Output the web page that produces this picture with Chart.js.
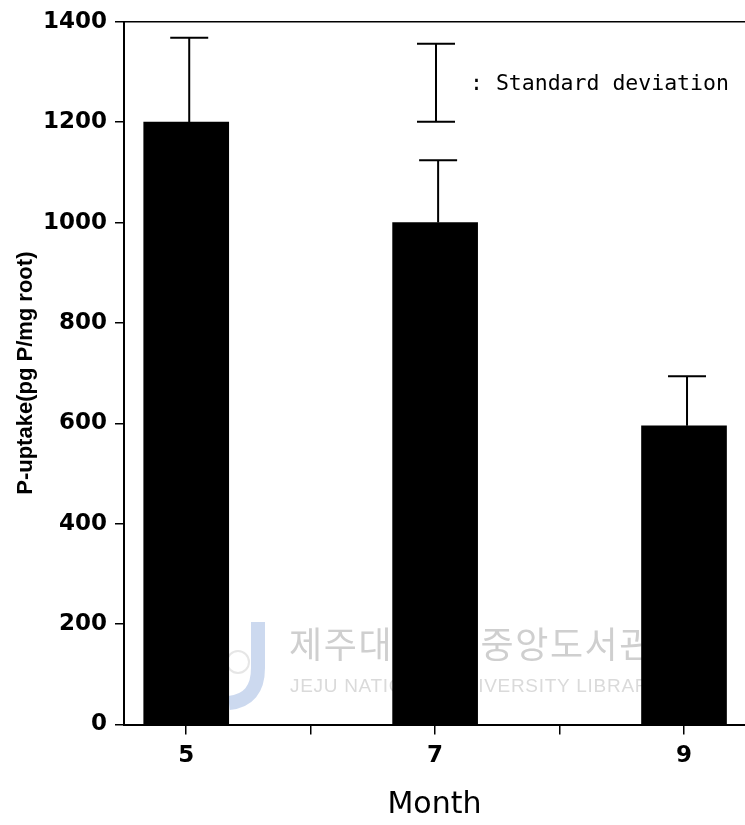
<!DOCTYPE html>
<html>
<head>
<meta charset="utf-8">
<title>P-uptake by month</title>
<script src="https://cdn.jsdelivr.net/npm/chart.js@4.4.1/dist/chart.umd.min.js"></script>
<style>
  html, body { margin: 0; padding: 0; background: #fff; overflow: hidden; }
  canvas { display: block; }
</style>
</head>
<body>
<canvas id="chart" width="745" height="825"></canvas>
<script>
// Sampling months and mean P-uptake (pg P / mg root) with standard deviations
const months = [5, 7, 9];
const uptake = [1200, 1000, 595];
const uptakeSD = [168, 124, 99];

// Axis ticks
const monthTicks = [5, 6, 7, 8, 9];
const labelledMonths = [5, 7, 9];
const yTicks = [0, 200, 400, 600, 800, 1000, 1200, 1400];

const AXIS_FONT = { family: 'DejaVu Sans', size: 23, weight: 'bold' };

// Library watermark printed faintly behind the bars
const watermark = {
  id: 'watermark',
  beforeDatasetsDraw(chart) {
    const { ctx } = chart;
    ctx.save();
    // J-shaped logo
    ctx.strokeStyle = 'rgba(170, 192, 228, 0.6)';
    ctx.lineWidth = 14;
    ctx.lineCap = 'butt';
    ctx.beginPath();
    ctx.moveTo(258, 622);
    ctx.lineTo(258, 668);
    ctx.quadraticCurveTo(258, 700, 229, 703);
    ctx.stroke();
    ctx.strokeStyle = 'rgba(205, 205, 205, 0.5)';
    ctx.lineWidth = 2;
    ctx.beginPath();
    ctx.arc(238, 662, 11, 0, Math.PI * 2);
    ctx.stroke();

    // Korean title, one glyph at a time
    ctx.fillStyle = '#cfcfcf';
    ctx.font = '36px "Noto Sans CJK KR"';
    ctx.textBaseline = 'middle';
    ctx.textAlign = 'left';
    const ko = '제주대학교 중앙도서관';
    let cx = 289;
    for (const ch of ko) {
      if (ch === ' ') { cx += 18; continue; }
      ctx.fillText(ch, cx, 644);
      cx += 34.7;
    }
    // English line
    ctx.fillStyle = '#dadada';
    ctx.font = '19px "Liberation Sans"';
    ctx.letterSpacing = '0.7px';
    ctx.textBaseline = 'alphabetic';
    ctx.fillText('JEJU NATIONAL UNIVERSITY LIBRARY', 290, 692);
    ctx.restore();
  }
};

// Upper whiskers for the standard deviation of each bar
const errorBars = {
  id: 'errorBars',
  afterDatasetsDraw(chart) {
    const { ctx, scales: { x, y } } = chart;
    ctx.save();
    ctx.strokeStyle = '#000';
    ctx.lineWidth = 2;
    months.forEach((m, i) => {
      const px = x.getPixelForValue(m) + 3;
      const yTop = y.getPixelForValue(uptake[i] + uptakeSD[i]);
      const yBar = y.getPixelForValue(uptake[i]);
      ctx.beginPath();
      ctx.moveTo(px, yBar);
      ctx.lineTo(px, yTop);
      ctx.moveTo(px - 19, yTop);
      ctx.lineTo(px + 19, yTop);
      ctx.stroke();
    });
    ctx.restore();
  }
};

// Key explaining the whisker symbol
const sdKey = {
  id: 'sdKey',
  afterDraw(chart) {
    const { ctx, chartArea } = chart;
    const kx = chartArea.left + 312;
    const top = chartArea.top + 22;
    const bottom = chartArea.top + 100;
    ctx.save();
    ctx.strokeStyle = '#000';
    ctx.lineWidth = 2;
    ctx.beginPath();
    ctx.moveTo(kx, top); ctx.lineTo(kx, bottom);
    ctx.moveTo(kx - 19, top); ctx.lineTo(kx + 19, top);
    ctx.moveTo(kx - 19, bottom); ctx.lineTo(kx + 19, bottom);
    ctx.stroke();
    ctx.fillStyle = '#000';
    ctx.font = '21.5px "DejaVu Sans Mono"';
    ctx.textBaseline = 'middle';
    ctx.textAlign = 'left';
    ctx.fillText(': Standard deviation', kx + 34, (top + bottom) / 2 + 2);
    ctx.restore();
  }
};

new Chart(document.getElementById('chart'), {
  type: 'bar',
  data: {
    datasets: [{
      label: 'P-uptake',
      data: months.map((m, i) => ({ x: m, y: uptake[i] })),
      backgroundColor: '#000',
      borderWidth: 0,
      barThickness: 85
    }]
  },
  options: {
    responsive: false,
    animation: false,
    devicePixelRatio: 1,
    layout: { padding: { top: 18, right: 0, bottom: 0, left: 0 } },
    plugins: { legend: { display: false }, tooltip: { enabled: false } },
    scales: {
      x: {
        type: 'linear',
        min: 4.5,
        max: 9.49,
        offset: false,
        afterBuildTicks: s => { s.ticks = monthTicks.map(v => ({ value: v })); },
        afterFit: s => { s.height = 100.5; },
        ticks: {
          autoSkip: false,
          maxRotation: 0,
          color: '#000',
          font: AXIS_FONT,
          padding: 8,
          callback: v => labelledMonths.includes(v) ? String(v) : ''
        },
        grid: {
          offset: false,
          drawOnChartArea: false,
          tickLength: 10,
          tickColor: '#000',
          lineWidth: 1.5
        },
        border: { display: true, color: '#000', width: 2 },
        title: {
          display: true,
          text: 'Month',
          color: '#000',
          font: { family: 'DejaVu Sans', size: 30, weight: 'normal' },
          padding: { top: 0, bottom: 2 }
        }
      },
      y: {
        min: yTicks[0],
        max: yTicks[yTicks.length - 1],
        afterBuildTicks: s => { s.ticks = yTicks.map(v => ({ value: v })); },
        afterFit: s => { s.width = 124; },
        ticks: { color: '#000', font: AXIS_FONT, padding: 8, callback: v => String(v) },
        grid: {
          drawOnChartArea: true,
          color: c => (c.tick && c.tick.value === yTicks[yTicks.length - 1]) ? '#000' : 'rgba(0,0,0,0)',
          tickColor: '#000',
          tickLength: 9,
          lineWidth: 1.5
        },
        border: { display: true, color: '#000', width: 2 },
        title: {
          display: true,
          text: 'P-uptake(pg P/mg root)',
          color: '#000',
          font: { family: 'Liberation Sans', size: 22, weight: 'bold' },
          padding: { top: 13, bottom: 0 }
        }
      }
    }
  },
  plugins: [watermark, errorBars, sdKey]
});
</script>
</body>
</html>
